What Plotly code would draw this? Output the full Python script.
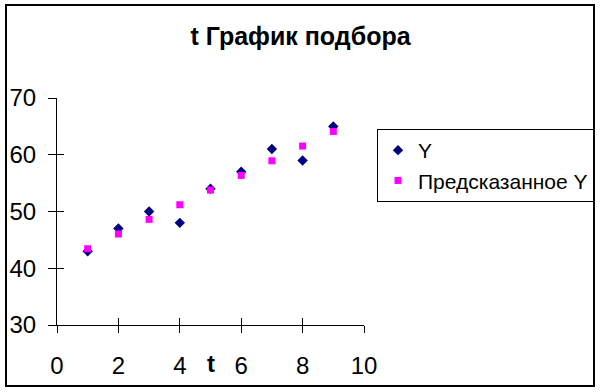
import plotly.graph_objects as go

t = [1, 2, 3, 4, 5, 6, 7, 8, 9]
y_obs = [43, 47, 50, 48, 54, 57, 61, 59, 65]
y_pred = [43.44, 46.03, 48.61, 51.19, 53.78, 56.36, 58.94, 61.53, 64.11]
x_ticks = [0, 2, 4, 6, 8, 10]
y_ticks = [30, 40, 50, 60, 70]

FONT = "Arial, Liberation Sans, sans-serif"

fig = go.Figure()
fig.add_trace(go.Scatter(x=t, y=y_obs, mode="markers", name="Y",
                         marker=dict(symbol="diamond", size=8, color="#000080")))
fig.add_trace(go.Scatter(x=t, y=y_pred, mode="markers", name="Предсказанное Y",
                         marker=dict(symbol="square", size=7, color="#FF00FF")))

fig.update_layout(
    width=601, height=392,
    margin=dict(l=57, r=237, t=98, b=67, autoexpand=False),
    paper_bgcolor="white", plot_bgcolor="white",
    font=dict(family=FONT, color="black", size=24),
    title=dict(text="<b>t График подбора</b>", x=0.5, xref="container", xanchor="center",
               y=1 - 45 / 392, yref="container", yanchor="bottom",
               font=dict(size=25, family=FONT, color="black")),
    xaxis=dict(range=[0, 10], tickvals=x_ticks, showgrid=False, zeroline=False,
               showline=True, linecolor="black", linewidth=1, automargin=False,
               ticks="outside", ticklen=7, tickcolor="black", tickwidth=1,
               ticklabelstandoff=12, tickfont=dict(size=24, family=FONT)),
    yaxis=dict(range=[30, 70], tickvals=y_ticks, showgrid=False, zeroline=False,
               showline=True, linecolor="black", linewidth=1, automargin=False,
               ticks="outside", ticklen=8, tickcolor="black", tickwidth=1,
               ticklabelstandoff=7, tickfont=dict(size=24, family=FONT)),
    xaxis2=dict(range=[0, 10], tickvals=x_ticks, overlaying="x", side="bottom",
                showgrid=False, zeroline=False, showline=False, showticklabels=False,
                ticks="inside", ticklen=7, tickcolor="black", tickwidth=1, anchor="y"),
    yaxis2=dict(range=[30, 70], tickvals=y_ticks, overlaying="y", side="left",
                showgrid=False, zeroline=False, showline=False, showticklabels=False,
                ticks="inside", ticklen=7, tickcolor="black", tickwidth=1, anchor="x"),
    legend=dict(x=377 / 601, xanchor="left", xref="container",
                y=1 - 129 / 392, yanchor="top", yref="container",
                bordercolor="black", borderwidth=1, bgcolor="white",
                font=dict(size=21, family=FONT, color="black"),
                itemwidth=30, itemsizing="trace", tracegroupgap=0),
    showlegend=True,
)

# dummy trace to activate the overlay axes for cross tick marks
fig.add_trace(go.Scatter(x=[None], y=[None], xaxis="x2", yaxis="y2",
                         showlegend=False, hoverinfo="skip"))

# axis title placed on the tick label row, like the original
fig.add_annotation(text="<b>t</b>", x=5, xref="x", y=-0.17, yref="paper",
                   yanchor="middle", showarrow=False,
                   font=dict(size=24, family=FONT, color="black"))

# outer chart border
fig.add_shape(type="rect", xref="paper", yref="paper",
              x0=-51 / 307, x1=(594 - 57) / 307, y0=-(386 - 325) / 227, y1=(325 - 5) / 227,
              line=dict(color="black", width=2), fillcolor="rgba(0,0,0,0)", layer="above")

fig.write_html("out.html", config={"displayModeBar": False},
               post_script="document.body.style.margin='0';")
